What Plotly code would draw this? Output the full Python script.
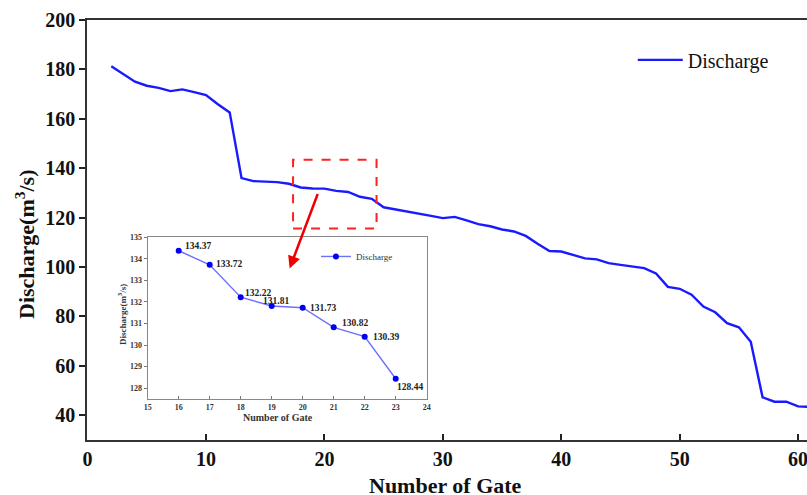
import plotly.graph_objects as go

# Main series
gates = list(range(2, 62))
discharge = [181.3, 178.3, 175.0, 173.4, 172.5, 171.2, 171.9, 170.8, 169.6, 165.9,
             162.6, 136.0, 134.8, 134.6, 134.37, 133.72, 132.22, 131.81, 131.73, 130.82,
             130.39, 128.44, 127.6, 124.2, 123.4, 122.6, 121.8, 120.7, 119.8, 120.3,
             118.9, 117.4, 116.5, 115.2, 114.4, 112.6, 109.4, 106.5, 106.3, 104.9,
             103.5, 103.1, 101.6, 100.9, 100.2, 99.6, 97.4, 92.0, 91.2, 88.8,
             84.0, 81.7, 77.3, 75.6, 69.8, 47.3, 45.5, 45.5, 43.6, 43.4]

# Inset series
inset_gates = [16, 17, 18, 19, 20, 21, 22, 23]
inset_discharge = [134.37, 133.72, 132.22, 131.81, 131.73, 130.82, 130.39, 128.44]
inset_labels = ["134.37", "133.72", "132.22", "131.81", "131.73", "130.82", "130.39", "128.44"]

main_xticks = [0, 10, 20, 30, 40, 50, 60]
main_yticks = [40, 60, 80, 100, 120, 140, 160, 180, 200]
inset_xticks = [15, 16, 17, 18, 19, 20, 21, 22, 23, 24]
inset_yticks = [128, 129, 130, 131, 132, 133, 134, 135]

# label placement styles (pixel offsets)
label_anchor = ["left", "left", "left", "center", "left", "left", "left", "left"]
label_dx = [4, 4, 2, 4, 5, 6, 6, -1]
label_dy = [5, 1, 4, 5, 0, 4, 0, -8]

SERIF = "Liberation Serif"

fig = go.Figure()
fig.add_trace(go.Scatter(
    x=gates, y=discharge, mode="lines", name="Discharge",
    line=dict(color="#1a1aff", width=2.4), xaxis="x", yaxis="y", legend="legend"))

fig.add_trace(go.Scatter(
    x=inset_gates, y=inset_discharge, mode="lines+markers", name="Discharge",
    line=dict(color="#6f6fff", width=1.4),
    marker=dict(color="#0000ee", size=6),
    xaxis="x2", yaxis="y2", legend="legend2", cliponaxis=False))

for gx, gy, lab, anc, dx, dy in zip(inset_gates, inset_discharge, inset_labels,
                                     label_anchor, label_dx, label_dy):
    fig.add_annotation(x=gx, y=gy, xref="x2", yref="y2", text="<b>" + lab + "</b>",
                       showarrow=False, xanchor=anc, yanchor="middle",
                       xshift=dx, yshift=dy,
                       font=dict(family=SERIF, size=9.5, color="#222"))

fig.update_layout(
    width=807, height=495,
    margin=dict(l=87, r=0, t=20, b=55, autoexpand=False),
    paper_bgcolor="white", plot_bgcolor="white",
    font=dict(family=SERIF, color="#111"),
    xaxis=dict(
        range=[-0.05, 60.75], tickvals=main_xticks, ticks="inside", ticklen=6,
        tickwidth=1.5, tickcolor="#222", automargin=False, ticklabeloverflow="allow",
        showline=True, linecolor="#333", linewidth=1.6, mirror=True,
        showgrid=False, zeroline=False,
        tickfont=dict(family=SERIF, size=20, color="#111", weight="bold")),
    yaxis=dict(
        range=[30, 200], tickvals=main_yticks, ticks="outside", ticklen=6,
        tickwidth=1.5, tickcolor="#222", automargin=False,
        showline=True, linecolor="#333", linewidth=1.6,
        showgrid=False, zeroline=False,
        tickfont=dict(family=SERIF, size=20, color="#111", weight="bold")),
    xaxis2=dict(
        domain=[0.0843, 0.4718], anchor="y2", range=[15, 24], tickvals=inset_xticks,
        ticks="inside", ticklen=3, tickcolor="#777", automargin=False,
        showline=True, linecolor="#888", linewidth=1.2, mirror=True,
        showgrid=False, zeroline=False,
        tickfont=dict(family=SERIF, size=8, color="#333", weight="bold")),
    yaxis2=dict(
        domain=[0.0976, 0.483], anchor="x2", range=[127.5, 135], tickvals=inset_yticks,
        ticks="outside", ticklen=3, tickcolor="#777", automargin=False,
        showline=True, linecolor="#888", linewidth=1.2, mirror=True,
        showgrid=False, zeroline=False,
        tickfont=dict(family=SERIF, size=8, color="#333", weight="bold")),
    legend=dict(x=0.758, y=0.905, xanchor="left", yanchor="middle", itemwidth=45,
                bgcolor="rgba(0,0,0,0)", font=dict(family=SERIF, size=20, color="#111")),
    legend2=dict(x=0.318, y=0.437, xanchor="left", yanchor="middle",
                 bgcolor="rgba(0,0,0,0)", itemwidth=30,
                 font=dict(family=SERIF, size=9, color="#333")),
    showlegend=True,
)

def px_x(p):
    return (p - 87) / 720

def px_y(p):
    return (440 - p) / 420

# Main axis titles
fig.add_annotation(text="<b>Number of Gate</b>", xref="paper", yref="paper",
                   x=px_x(445), y=px_y(485), xanchor="center", yanchor="middle",
                   showarrow=False, font=dict(family=SERIF, size=22, color="#111"))
fig.add_annotation(text="<b>Discharge(m<sup>3</sup>/s)</b>", xref="paper", yref="paper",
                   x=px_x(25), y=px_y(245), xanchor="center", yanchor="middle",
                   textangle=-90, showarrow=False, font=dict(family=SERIF, size=22, color="#111"))

# Inset axis titles
fig.add_annotation(text="<b>Number of Gate</b>", xref="paper", yref="paper",
                   x=px_x(278), y=px_y(417), xanchor="center", yanchor="middle",
                   showarrow=False, font=dict(family=SERIF, size=10, color="#333"))
fig.add_annotation(text="<b>Discharge(m<sup>3</sup>/s)</b>", xref="paper", yref="paper",
                   x=px_x(122), y=px_y(315), xanchor="center", yanchor="middle",
                   textangle=-90, showarrow=False, font=dict(family=SERIF, size=9, color="#333"))

# Inset white background
fig.add_shape(type="rect", xref="x2 domain", yref="y2 domain", x0=0, x1=1, y0=0, y1=1,
              fillcolor="white", line=dict(width=0), layer="below")

# Red dashed zoom box
fig.add_shape(type="rect", xref="x", yref="y", x0=17.35, x1=24.4, y0=115.65, y1=143.4,
              line=dict(color="#ff2020", width=2, dash="dash"))

# Red arrow
fig.add_annotation(x=17.06, y=99.4, ax=19.48, ay=130.2, xref="x", yref="y",
                   axref="x", ayref="y", showarrow=True, arrowhead=2, arrowsize=1,
                   arrowwidth=2.5, arrowcolor="#ee0000", text="")

fig.write_html("out.html", config={"displayModeBar": False},
               post_script="document.body.style.margin='0';document.body.style.overflow='hidden';")
